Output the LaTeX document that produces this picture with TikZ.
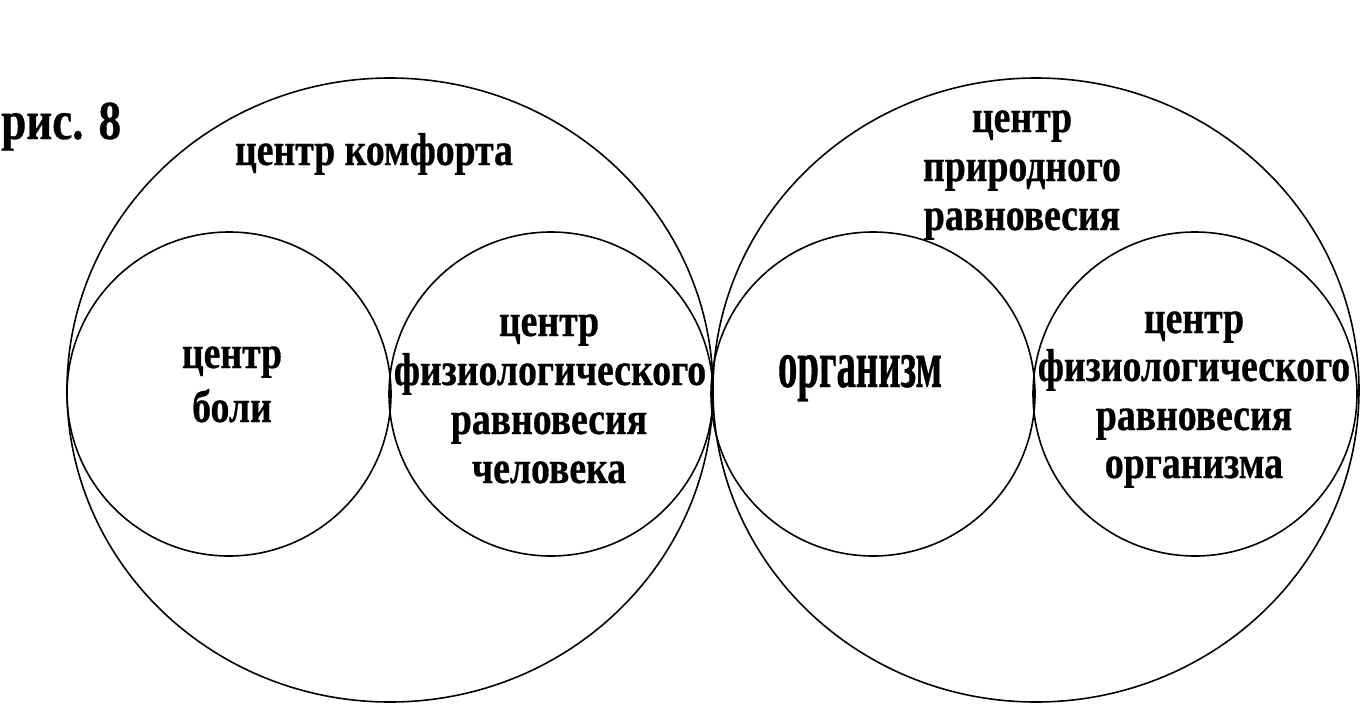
\documentclass[tikz,border=0pt]{standalone}
\usepackage{fontspec}
\setmainfont{Liberation Serif}
\newfontfamily\cfont[FakeStretch=0.82, FakeBold=0.6]{Liberation Serif}
\newfontfamily\ofont[FakeStretch=0.57, FakeBold=0.6]{Liberation Serif}
\usetikzlibrary{shapes.geometric}
\tikzset{
  ring/.style={circle, draw, line width=1.6pt, inner sep=0pt, minimum size=324pt},
  bigring/.style={ellipse, draw, line width=1.6pt, inner sep=0pt, minimum width=646pt, minimum height=624pt},
  tx/.style={font=\cfont\bfseries\fontsize{46}{48}\selectfont, inner sep=0pt, anchor=base},
  otx/.style={font=\ofont\bfseries\fontsize{68}{70}\selectfont, inner sep=0pt, anchor=base}
}
\begin{document}
\begin{tikzpicture}[x=1pt, y=-1pt]
\useasboundingbox (0,0) rectangle (1366,723);
\fill[white] (0,0) rectangle (1366,723);
% big circles
\node[bigring] (comfort) at (390,390) {};
\node[bigring] (nature) at (1036,390) {};
% small circles
\node[ring] (pain) at (229,394) {};
\node[ring] (phys1) at (551,394) {};
\node[ring] (org) at (873,394) {};
\node[ring] (phys2) at (1195,394) {};
% texts
\node[tx, anchor=base west, font=\cfont\bfseries\fontsize{55}{58}\selectfont] (fig) at (1,139) {рис. 8};
\node[tx] (tcomf) at (374,165) {центр комфорта};
\node[tx] (tnat1) at (1022,132) {центр};
\node[tx] (tnat2) at (1022,181) {природного};
\node[tx] (tnat3) at (1022,230) {равновесия};
\node[tx] (tpain1) at (232,368) {центр};
\node[tx] (tpain2) at (232,422) {боли};
\node[tx] (tph1a) at (549,336) {центр};
\node[tx] (tph1b) at (550,385) {физиологического};
\node[tx] (tph1c) at (549,434) {равновесия};
\node[tx] (tph1d) at (549,483) {человека};
\node[otx] (torg) at (860,387) {организм};
\node[tx] (tph2a) at (1194,333) {центр};
\node[tx] (tph2b) at (1194,381) {физиологического};
\node[tx] (tph2c) at (1194,430) {равновесия};
\node[tx] (tph2d) at (1194,478) {организма};
\end{tikzpicture}
\end{document}
